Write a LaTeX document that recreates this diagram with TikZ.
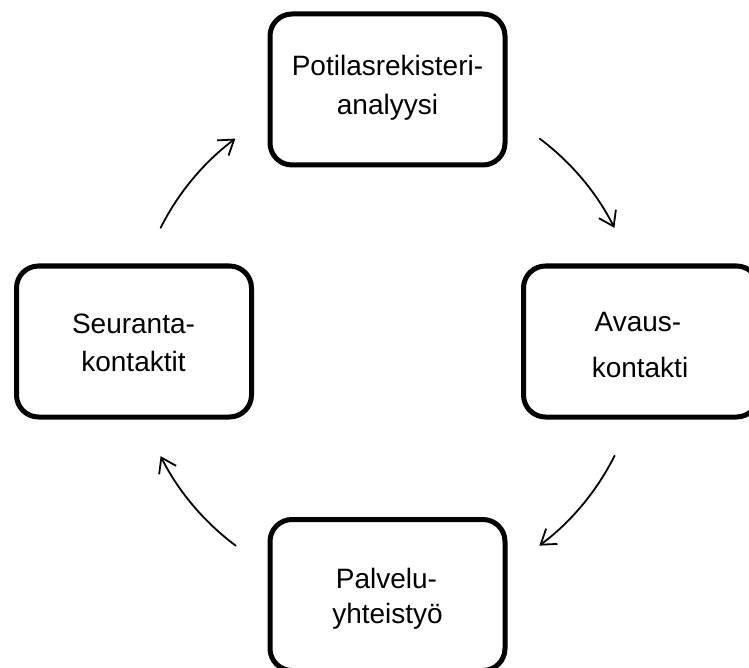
\documentclass[tikz,border=0pt]{standalone}
\usepackage{fontspec}
\setmainfont{Liberation Sans}
\usetikzlibrary{arrows.meta}

\begin{document}
\begin{tikzpicture}[x=1pt,y=1pt,
  stagebox/.style={draw=black, line width=5pt, rounded corners=22pt,
    minimum width=235pt, minimum height=151pt, inner sep=0pt, fill=white},
  stagetext/.style={anchor=base, inner sep=0pt,
    font=\fontsize{28}{34}\selectfont},
  cyclearrow/.style={line width=1.8pt, line cap=round,
    -{Straight Barb[length=14pt, width=19pt, line join=miter]}}
]
\useasboundingbox (0,0) rectangle (749,-668);
\clip (0,0) rectangle (749,-668);

% centre of the cycle
\coordinate (hub) at (387.5,-342);

% the four stages
\node[stagebox] (reg)  at (387.5,-89.5) {};
\node[stagebox] (open) at (641,-341.5)  {};
\node[stagebox] (serv) at (387.5,-595)  {};
\node[stagebox] (foll) at (134,-341.5)  {};

% stage labels
\node[stagetext] (regA)  at (387.5,-76)  {Potilasrekisteri-};
\node[stagetext] (regB)  at (387.5,-115) {analyysi};
\node[stagetext] (openA) at (638,-331)   {Avaus-};
\node[stagetext] (openB) at (640,-377)   {kontakti};
\node[stagetext] (servA) at (386.5,-588) {Palvelu-};
\node[stagetext] (servB) at (387.5,-623) {yhteistyö};
\node[stagetext] (follA) at (133.5,-333) {Seuranta-};
\node[stagetext] (follB) at (133.5,-371) {kontaktit};

% clockwise arrows on a circle around the hub
\draw[cyclearrow] ([shift={(153.3:254)}]hub) arc[start angle=153.3, end angle=126.8, radius=254];
\draw[cyclearrow] ([shift={(53.2:254)}]hub)  arc[start angle=53.2,  end angle=26.7,  radius=254];
\draw[cyclearrow] ([shift={(-26.6:254)}]hub) arc[start angle=-26.6, end angle=-53.3, radius=254];
\draw[cyclearrow] ([shift={(-126.7:254)}]hub) arc[start angle=-126.7, end angle=-153.3, radius=254];
\end{tikzpicture}
\end{document}
